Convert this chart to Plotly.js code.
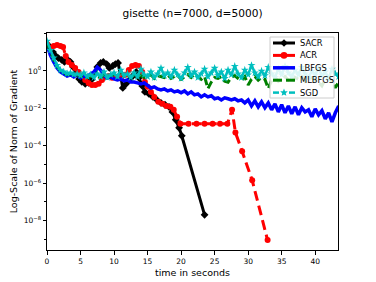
<!DOCTYPE html>
<html>
<head>
<meta charset="utf-8">
<script src="https://cdn.plot.ly/plotly-3.0.1.min.js"></script>
<style>html,body{margin:0;padding:0;background:#fff;}#chart{width:376px;height:282px;}</style>
</head>
<body>
<div id="chart"></div>
<script>
// Values as log10(norm of gradient)
const sacrTime = [0,0.4,0.9,1.3,1.7,2.2,2.6,3.1,3.5,3.9,4.3,4.8,5.2,5.7,6.2,6.6,7.1,7.5,8.0,8.4,8.9,9.3,9.8,10.2,10.6,11.0,11.3,11.8,12.3,12.8,13.3,13.7,14.2,14.6,15.2,15.8,16.4,17.0,17.6,18.2,18.7,19.2,19.7,20.1,23.5];
const sacrLog10 = [1.44,1.28,1.01,0.8,0.69,0.59,0.48,0.59,0.48,0.21,-0.11,-0.43,-0.59,-0.69,-0.64,-0.48,-0.11,0.21,0.43,0.48,0.37,0.16,0.27,0.37,0.43,-0.27,-0.91,-0.69,-0.48,-0.27,-0.05,-0.37,-0.8,-1.12,-1.23,-1.39,-1.55,-1.71,-1.81,-1.92,-2.19,-2.61,-3.04,-3.47,-7.7];

const acrTime = [0,0.5,1.0,1.5,2.0,2.4,2.8,3.2,3.7,4.2,4.7,5.2,5.7,6.2,6.7,7.2,7.7,8.2,8.7,9.2,9.7,10.2,10.7,11.2,11.7,12.2,12.7,13.2,13.7,14.2,14.6,15.0,15.5,16.0,16.6,17.2,17.8,18.4,18.9,19.4,19.9,21.1,22.3,23.5,24.7,25.8,26.9,27.6,28.1,29.1,30.6,32.9];
const acrLog10 = [1.44,1.23,1.33,1.39,1.33,1.28,0.8,0.48,0.32,0.16,-0.05,-0.27,-0.48,-0.64,-0.75,-0.75,-0.69,-0.48,-0.32,-0.27,-0.37,-0.32,-0.37,-0.27,-0.21,0.05,0.27,0.32,0.27,-0.05,-0.59,-0.85,-1.12,-1.39,-1.65,-1.76,-1.87,-1.92,-2.08,-2.45,-2.83,-2.83,-2.83,-2.83,-2.83,-2.83,-2.83,-2.08,-3.29,-4.3,-5.85,-9.05];

const gridTime = [0,0.5,1,1.5,2,2.5,3,3.5,4,4.5,5,5.5,6,6.5,7,7.5,8,8.5,9,9.5,10,10.5,11,11.5,12,12.5,13,13.5,14,14.5,15,15.5,16,16.5,17,17.5,18,18.5,19,19.5,20,20.5,21,21.5,22,22.5,23,23.5,24,24.5,25,25.5,26,26.5,27,27.5,28,28.5,29,29.5,30,30.5,31,31.5,32,32.5,33,33.5,34,34.5,35,35.5,36,36.5,37,37.5,38,38.5,39,39.5,40,40.5,41,41.5,42,42.5,43,43.5];

const lbfgsLog10 = [1.39,0.85,0.48,0.16,-0.05,-0.16,-0.27,-0.21,-0.32,-0.21,-0.37,-0.27,-0.32,-0.16,-0.05,0.21,0.05,-0.27,-0.37,-0.32,-0.43,-0.48,-0.43,-0.53,-0.48,-0.59,-0.59,-0.64,-0.69,-0.64,-0.8,-0.91,-0.85,-0.96,-1.01,-0.96,-1.07,-1.01,-1.12,-1.07,-1.17,-1.07,-1.23,-1.12,-1.28,-1.23,-1.39,-1.28,-1.39,-1.33,-1.49,-1.44,-1.55,-1.44,-1.49,-1.55,-1.49,-1.6,-1.55,-1.71,-1.55,-1.87,-1.6,-1.92,-1.65,-1.97,-1.71,-2.08,-1.76,-2.19,-1.81,-2.24,-1.87,-2.29,-1.92,-2.35,-1.97,-2.19,-2.08,-2.45,-2.03,-2.35,-2.13,-2.56,-2.24,-2.72,-2.24,-1.87];

const mlbfgsLog10 = [1.5,1.0,0.6,0.25,0.0,-0.1,-0.2,-0.15,-0.25,-0.2,-0.3,-0.25,-0.35,-0.3,-0.25,-0.3,-0.35,-0.2,-0.3,-0.25,-0.2,-0.1,0.0,-0.3,-0.25,-0.35,-0.2,-0.3,-0.25,-0.35,-0.3,-0.2,-0.4,-0.25,-0.3,-0.35,-0.2,-0.4,-0.3,-0.25,-0.45,-0.3,-0.2,-0.35,-0.15,-0.3,-0.45,-0.3,-0.95,-0.6,-0.35,-0.4,-0.3,-0.55,-0.6,-0.35,-0.25,-0.4,-0.5,-0.3,-0.75,-0.45,-0.3,-0.5,-0.35,-0.45,-0.95,-0.5,-0.35,-0.55,-0.4,-0.3,-0.5,-0.6,-0.35,-0.45,-0.3,-0.55,-0.4,-0.35,-0.5,-0.6,-0.8,-0.45,-0.35,-0.55,-0.9,-0.6];

const sgdLog10 = [1.6,1.1,0.7,0.3,0.05,-0.05,-0.15,-0.1,-0.2,-0.15,-0.25,-0.1,-0.3,-0.2,-0.35,-0.15,-0.3,-0.05,-0.35,-0.2,-0.1,-0.3,0.05,-0.25,-0.15,-0.35,-0.1,-0.3,0.1,-0.2,-0.3,-0.05,-0.35,-0.15,0.15,-0.25,-0.1,-0.3,0.05,-0.2,-0.4,-0.1,0.2,-0.25,-0.05,-0.35,-0.15,0.1,-0.3,-0.1,0.15,-0.25,-0.05,-0.4,0.05,-0.2,0.25,-0.15,-0.35,0.05,-0.2,0.3,-0.1,-0.3,0.0,-0.25,0.2,-0.15,-0.35,0.1,-0.2,0.25,-0.1,-0.3,0.05,-0.2,0.2,-0.15,-0.35,0.0,-0.2,0.15,-0.25,-0.05,-0.4,0.1,-0.15,-0.3];

const seriesNames = ["SACR","ACR","LBFGS","MLBFGS","SGD"];
const seriesColors = ["#000000","#ff0000","#0000ff","#008000","#00bfbf"];
const yTickVals = [1e-8,1e-6,1e-4,1e-2,1];
const yTickText = ["10<sup>−8</sup>","10<sup>−6</sup>","10<sup>−4</sup>","10<sup>−2</sup>","10<sup>0</sup>"];
const yMinorVals = [1e-9,1e-7,1e-5,1e-3,1e-1,10,100];
const xTickVals = [0,5,10,15,20,25,30,35,40];

const toNorm = a => a.map(v => Math.pow(10, v));

const traces = [
  {x: sacrTime, y: toNorm(sacrLog10), name: seriesNames[0], mode: "lines+markers",
   line: {color: seriesColors[0], width: 3}, marker: {symbol: "diamond", size: 6, color: seriesColors[0]}},
  {x: acrTime, y: toNorm(acrLog10), name: seriesNames[1], mode: "lines+markers",
   line: {color: seriesColors[1], width: 3, dash: "10px,5px"}, marker: {symbol: "circle", size: 6, color: seriesColors[1]}},
  {x: gridTime, y: toNorm(lbfgsLog10), name: seriesNames[2], mode: "lines",
   line: {color: seriesColors[2], width: 3.5}},
  {x: gridTime, y: toNorm(mlbfgsLog10), name: seriesNames[3], mode: "lines",
   line: {color: seriesColors[3], width: 3, dash: "8px,4px"}},
  {x: gridTime, y: toNorm(sgdLog10), name: seriesNames[4], mode: "lines+markers",
   line: {color: seriesColors[4], width: 2.5}, marker: {symbol: "star", size: 6, color: seriesColors[4]}}
];

const font = {family: "DejaVu Sans, sans-serif", color: "#000000"};

// ---- compact legend (matplotlib style) drawn in paper coordinates ----
const W = 376, H = 282, M = {l: 47, r: 38, t: 33, b: 32};
const pw = W - M.l - M.r, ph = H - M.t - M.b;
const px = v => (v - M.l) / pw;
const py = v => (H - M.b - v) / ph;
const legBox = {x0: 270, x1: 334, y0: 37, y1: 98};
const rowY0 = 43, rowGap = 12.4, lineX0 = 273, lineX1 = 295, textX = 297.5;
const shapes = [{type: "rect", xref: "paper", yref: "paper", layer: "above",
  x0: px(legBox.x0), x1: px(legBox.x1), y0: py(legBox.y1), y1: py(legBox.y0),
  fillcolor: "rgba(255,255,255,0.85)", line: {color: "#cccccc", width: 1}}];
const annotations = [];
const legendStyles = [
  {dash: "solid", width: 3, marker: "diamond"},
  {dash: "dash", width: 3, marker: "circle"},
  {dash: "solid", width: 3.5, marker: null},
  {dash: "dash", width: 3, marker: null},
  {dash: "dashdot", width: 2.5, marker: "star"}
];
seriesNames.forEach((name, i) => {
  const yc = rowY0 + i * rowGap;
  const st = legendStyles[i];
  const c = seriesColors[i];
  if (st.dash === "dash") {
    shapes.push({type: "line", xref: "paper", yref: "paper", layer: "above",
      x0: px(lineX0), x1: px(lineX0 + 9), y0: py(yc), y1: py(yc), line: {color: c, width: st.width}});
    shapes.push({type: "line", xref: "paper", yref: "paper", layer: "above",
      x0: px(lineX1 - 9), x1: px(lineX1), y0: py(yc), y1: py(yc), line: {color: c, width: st.width}});
  } else if (st.dash === "dashdot") {
    shapes.push({type: "line", xref: "paper", yref: "paper", layer: "above",
      x0: px(lineX0), x1: px(lineX0 + 6), y0: py(yc), y1: py(yc), line: {color: c, width: st.width}});
    shapes.push({type: "line", xref: "paper", yref: "paper", layer: "above",
      x0: px(lineX1 - 6), x1: px(lineX1), y0: py(yc), y1: py(yc), line: {color: c, width: st.width}});
  } else {
    shapes.push({type: "line", xref: "paper", yref: "paper", layer: "above",
      x0: px(lineX0), x1: px(lineX1), y0: py(yc), y1: py(yc), line: {color: c, width: st.width}});
  }
  const xc = (lineX0 + lineX1) / 2, r = 3.3;
  if (st.marker === "circle") {
    shapes.push({type: "circle", xref: "paper", yref: "paper", layer: "above",
      x0: px(xc - r), x1: px(xc + r), y0: py(yc + r), y1: py(yc - r), fillcolor: c, line: {color: c, width: 0}});
  } else if (st.marker === "diamond") {
    const d = 3.8;
    shapes.push({type: "path", xref: "paper", yref: "paper", layer: "above",
      path: `M${px(xc - d)},${py(yc)} L${px(xc)},${py(yc - d)} L${px(xc + d)},${py(yc)} L${px(xc)},${py(yc + d)} Z`,
      fillcolor: c, line: {color: c, width: 0}});
  } else if (st.marker === "star") {
    let p = "";
    for (let k = 0; k < 10; k++) {
      const ang = -Math.PI / 2 + k * Math.PI / 5;
      const rr = k % 2 === 0 ? 4 : 1.8;
      p += (k === 0 ? "M" : " L") + px(xc + rr * Math.cos(ang)) + "," + py(yc + rr * Math.sin(ang));
    }
    shapes.push({type: "path", xref: "paper", yref: "paper", layer: "above", path: p + " Z",
      fillcolor: c, line: {color: c, width: 0}});
  }
  annotations.push({xref: "paper", yref: "paper", x: px(textX), y: py(yc), xanchor: "left", yanchor: "middle",
    text: name, showarrow: false, font: Object.assign({size: 8.3}, font)});
});

const layout = {
  width: W, height: H,
  margin: {l: M.l, r: M.r, t: M.t, b: M.b, pad: 0},
  paper_bgcolor: "#ffffff", plot_bgcolor: "#ffffff",
  font: Object.assign({size: 8}, font),
  title: {text: "gisette (n=7000, d=5000)", font: Object.assign({size: 10.6}, font),
          x: 0.512, xanchor: "center", y: 1 - 13/282, yanchor: "middle", yref: "container"},
  showlegend: false,
  shapes: shapes,
  annotations: annotations,
  xaxis: {
    range: [0, 43.4], tickmode: "array", tickvals: xTickVals,
    showgrid: false, zeroline: false, showline: true, mirror: true,
    linecolor: "#000000", linewidth: 1, ticks: "outside", ticklen: 3.5, tickcolor: "#000000",
    tickfont: Object.assign({size: 7.5}, font),
    title: {text: "time in seconds", font: Object.assign({size: 9.5}, font), standoff: 4}
  },
  yaxis: {
    type: "log", range: [-9.58, 2.03], tickmode: "array", tickvals: yTickVals, ticktext: yTickText,
    showgrid: false, zeroline: false, showline: true, mirror: true,
    linecolor: "#000000", linewidth: 1, ticks: "outside", ticklen: 3.5, tickcolor: "#000000",
    tickfont: Object.assign({size: 7.5}, font),
    minor: {tickmode: "array", tickvals: yMinorVals, ticks: "outside", ticklen: 2, tickcolor: "#000000", showgrid: false},
    title: {text: "Log-Scale of Norm of Gradient", font: Object.assign({size: 9.5}, font), standoff: 4}
  }
};

Plotly.newPlot("chart", traces, layout, {staticPlot: true, displayModeBar: false});
</script>
</body>
</html>
